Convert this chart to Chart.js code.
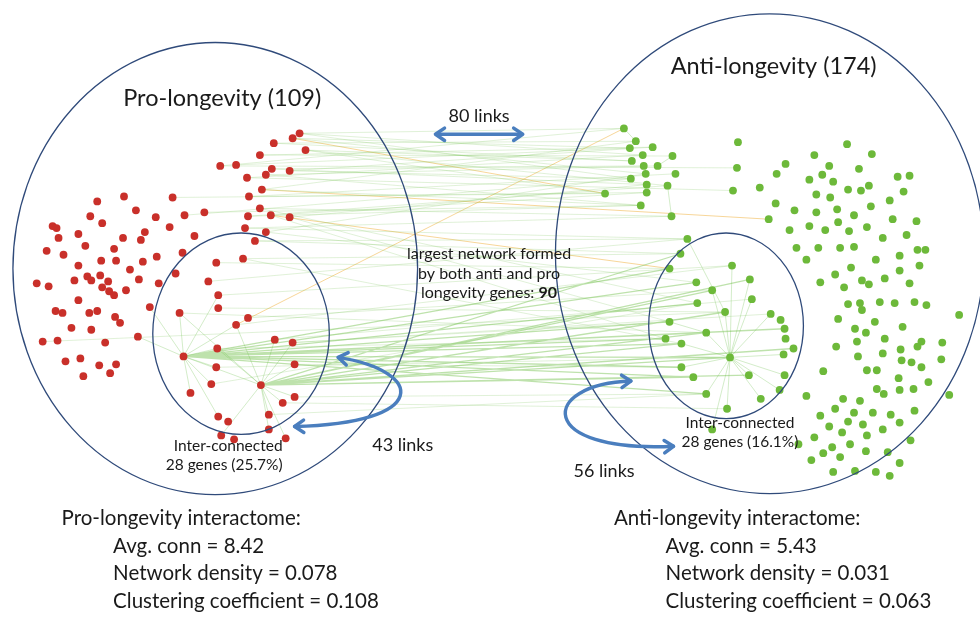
<!DOCTYPE html>
<html>
<head>
<meta charset="utf-8">
<script src="https://cdn.jsdelivr.net/npm/chart.js@4"></script>
<style>
  html, body { margin: 0; padding: 0; background: #fff; }
  #net { display: block; }
</style>
</head>
<body>
<canvas id="net" width="980" height="622"></canvas>
<script>
// gene positions (layout units, 0..980 x 0..622, y downwards)
const proGenes = [
  [298,131],[291,136],[304,148],[272,141],[258,153],[218,164],[234,163],[245,176],[264,173],[270,167],
  [288,169],[260,188],[247,195],[258,207],[269,214],[288,216],[246,215],[243,227],[264,231],[253,240],
  [241,258],[214,262],[206,281],[216,295],[170,196],[121,195],[94,200],[133,209],[153,216],[182,214],
  [202,211],[87,215],[99,222],[49,225],[53,227],[142,231],[167,226],[192,235],[75,233],[120,237],
  [138,239],[55,237],[82,245],[111,248],[43,250],[60,254],[180,252],[154,256],[98,260],[113,260],
  [140,261],[75,265],[127,269],[173,273],[84,276],[88,280],[97,275],[71,280],[105,281],[136,279],
  [156,283],[33,283],[45,286],[99,287],[106,291],[111,295],[123,290],[75,300],[216,308],[177,313],
  [147,307],[52,311],[59,313],[86,313],[94,311],[112,317],[117,323],[68,328],[88,330],[246,318],
  [234,325],[39,342],[54,341],[102,343],[135,337],[273,340],[291,343],[215,349],[181,357],[62,362],
  [77,359],[96,366],[113,365],[80,377],[107,374],[214,368],[293,365],[209,385],[259,386],[188,394],
  [293,398],[281,404],[267,416],[216,418],[226,423],[267,431],[219,437],[232,441],[284,440]
];
const antiGenes = [
  [625,126],[637,139],[631,146],[654,145],[644,153],[674,154],[633,159],[645,164],[659,164],[647,172],
  [677,172],[632,177],[648,183],[669,184],[648,191],[606,192],[642,204],[673,215],[739,166],[735,189],
  [762,186],[779,172],[788,162],[778,202],[771,218],[689,238],[682,253],[671,268],[734,265],[752,279],
  [698,282],[714,290],[754,299],[699,303],[727,312],[671,322],[708,333],[667,339],[683,344],[773,314],
  [783,320],[787,329],[788,339],[796,349],[786,355],[732,358],[683,368],[751,376],[787,376],[695,378],
  [782,391],[809,397],[708,395],[763,400],[729,410],[714,431],[801,446],[817,439],[814,462],[850,142],
  [817,153],[875,152],[832,164],[862,167],[825,173],[812,178],[836,180],[901,175],[913,174],[851,188],
  [864,189],[872,184],[907,190],[819,193],[833,196],[893,199],[797,209],[819,211],[840,208],[874,205],
  [857,214],[841,221],[896,218],[920,220],[792,229],[812,225],[828,229],[852,230],[870,226],[886,237],
  [910,234],[799,247],[821,247],[843,247],[857,246],[921,249],[929,249],[809,259],[879,259],[903,255],
  [854,267],[923,265],[838,274],[903,270],[823,282],[865,280],[872,284],[888,278],[847,287],[913,283],
  [851,304],[863,303],[883,302],[898,303],[918,302],[930,305],[865,310],[963,315],[841,319],[878,322],
  [906,327],[858,329],[869,333],[888,339],[860,342],[925,342],[921,347],[946,343],[839,347],[904,350],
  [886,354],[861,357],[905,361],[915,363],[945,360],[925,368],[826,372],[870,371],[880,371],[902,379],
  [932,383],[880,390],[887,395],[903,391],[917,390],[953,396],[846,400],[863,402],[838,410],[857,414],
  [876,414],[894,416],[918,412],[823,417],[851,423],[866,426],[903,424],[832,428],[886,431],[845,434],
  [870,437],[914,442],[853,446],[835,449],[826,455],[869,453],[891,454],[843,459],[903,465],[836,474],
  [858,473],[879,474],[893,478],[740,140]
];

// links: [pro index, anti index] or within one group
const crossLinks = [
  [0,0],[0,4],[1,2],[2,6],[2,15],[3,1],[10,3],[10,11],[9,7],[15,12],[14,14],[11,16],[18,9],[13,17],
  [16,13],[17,25],[19,26],[12,10],[4,5],[8,8],[85,32],[86,35],[96,46],[100,52],[101,54],[80,28],
  [68,34],[87,37],[95,45],[86,39],[5,18],[7,19],[5,0],[6,2],[7,4],[3,6],[9,12],[12,14],[16,16],
  [17,17],[19,25],[20,26],[21,27],[18,30],[13,33],[15,35],[14,37],[20,38],[22,25],[23,28],[0,11],
  [1,9],[2,13],[8,16],[11,1],[4,3],[24,15],[29,11],[30,16],[81,34],[79,31],[69,36],[97,33],[102,52]
];
const hubLinks = [
  [88,45],[88,38],[88,35],[88,37],[88,46],[88,49],[88,36],[88,33],[88,30],[88,27],[88,52],[88,41],
  [98,45],[98,34],[98,38],[98,36],[98,31],[98,26],[98,47],[98,29],[98,43],[98,49]
];
const orangeLinks = [[80,0],[14,27],[1,15],[11,24]];
const proLinks = [
  [88,69],[88,70],[88,87],[88,95],[88,97],[88,99],[88,80],[88,103],[88,23],[88,98],[88,84],
  [98,80],[98,85],[98,86],[98,96],[98,100],[98,101],[98,102],[98,105],[98,106],[98,108],[98,87],[98,69]
];
const antiLinks = [
  [45,34],[45,36],[45,38],[45,46],[45,47],[45,48],[45,52],[45,53],[45,54],[45,55],[45,28],[45,31],
  [45,32],[45,29],[45,50],[45,44],[36,35],[34,25],[5,8],[13,17],[0,1],[39,45]
];

const toPts = arr => arr.map(p => ({ x: p[0], y: p[1] }));
function segs(pairs, A, B) {
  const out = [];
  pairs.forEach(([i, j]) => {
    out.push({ x: A[i][0], y: A[i][1] }, { x: B[j][0], y: B[j][1] }, { x: null, y: null });
  });
  return out;
}
const lineSet = (data, color, width) => ({
  type: "line", data, borderColor: color, borderWidth: width, pointRadius: 0,
  spanGaps: false, fill: false, tension: 0, order: 5
});

const blue = "#4A7EBE";
const navy = "#2F4A7A";
const ink = "#1a1a1a";
const FONT = "Lato, 'Open Sans', sans-serif";

const decor = {
  id: "decor",
  beforeDraw(chart) {
    const c = chart.ctx;
    c.save(); c.fillStyle = "#fff"; c.fillRect(0, 0, chart.width, chart.height); c.restore();
  },
  afterDatasetsDraw(chart) {
    const c = chart.ctx, X = chart.scales.x, Y = chart.scales.y;
    const px = v => X.getPixelForValue(v), py = v => Y.getPixelForValue(v);
    c.save();
    // group ellipses
    c.strokeStyle = navy; c.lineWidth = 1.3;
    [[213,268,204,229],[239,334,89,102],[772,253,216,243],[728,326,78,94]].forEach(e => {
      c.beginPath();
      c.ellipse(px(e[0]), py(e[1]), px(e[0] + e[2]) - px(e[0]), py(e[1] + e[3]) - py(e[1]), 0, 0, Math.PI * 2);
      c.stroke();
    });

    // arrows
    c.strokeStyle = blue; c.lineWidth = 3.5; c.lineCap = "round"; c.lineJoin = "round";
    function head(x, y, ang) {
      const L = 11, a = 0.6;
      c.beginPath();
      c.moveTo(x - L * Math.cos(ang - a), y - L * Math.sin(ang - a));
      c.lineTo(x, y);
      c.lineTo(x - L * Math.cos(ang + a), y - L * Math.sin(ang + a));
      c.stroke();
    }
    c.beginPath(); c.moveTo(px(437), py(132)); c.lineTo(px(521), py(132)); c.stroke();
    head(px(435), py(132), Math.PI); head(px(523), py(132), 0);

    function curve(p) {
      const q = p.map(v => [px(v[0]), py(v[1])]);
      c.beginPath(); c.moveTo(q[0][0], q[0][1]);
      c.bezierCurveTo(q[1][0], q[1][1], q[2][0], q[2][1], q[3][0], q[3][1]);
      c.stroke();
      head(q[0][0], q[0][1], Math.atan2(q[0][1] - q[1][1], q[0][0] - q[1][0]));
      head(q[3][0], q[3][1], Math.atan2(q[3][1] - q[2][1], q[3][0] - q[2][0]));
    }
    curve([[337,358],[425,372],[430,425],[293,428]]);
    curve([[632,382],[540,385],[535,455],[675,448]]);

    // labels
    c.fillStyle = ink; c.textBaseline = "middle";
    function txt(s, x, y, size, align, weight) {
      c.font = (weight || "normal") + " " + size + "px " + FONT;
      c.textAlign = align || "center";
      c.fillText(s, px(x), py(y));
    }
    txt("Pro-longevity (109)", 220, 96, 23.5);
    txt("Anti-longevity (174)", 776, 63, 23.5);
    txt("80 links", 479, 114, 18);
    const sm = 16;
    txt("largest network formed", 489, 253, sm);
    txt("by both anti and pro", 489, 273, sm);
    c.font = sm + "px " + FONT;
    const w1 = c.measureText("longevity genes: ").width;
    c.font = "bold " + sm + "px " + FONT;
    const w2 = c.measureText("90").width;
    const x0 = px(489) - (w1 + w2) / 2;
    c.textAlign = "left";
    c.font = sm + "px " + FONT; c.fillText("longevity genes: ", x0, py(293));
    c.font = "bold " + sm + "px " + FONT; c.fillText("90", x0 + w1, py(293));
    txt("Inter-connected", 226, 448, 15.5);
    txt("28 genes (25.7%)", 222, 467, 15.5);
    txt("Inter-connected", 742, 424, 15.5);
    txt("28 genes (16.1%)", 742, 444, 15.5);
    txt("43 links", 402, 447, 18);
    txt("56 links", 605, 473, 18);
    txt("Pro-longevity interactome:", 58, 521, 20.5, "left");
    txt("Avg. conn = 8.42", 110, 549, 20.5, "left");
    txt("Network density = 0.078", 110, 577, 20.5, "left");
    txt("Clustering coefficient = 0.108", 110, 605, 20.5, "left");
    txt("Anti-longevity interactome:", 615, 521, 20.5, "left");
    txt("Avg. conn = 5.43", 667, 549, 20.5, "left");
    txt("Network density = 0.031", 667, 577, 20.5, "left");
    txt("Clustering coefficient = 0.063", 667, 605, 20.5, "left");
    c.restore();
  }
};

new Chart(document.getElementById("net"), {
  type: "scatter",
  data: {
    datasets: [
      { label: "Pro-longevity", data: toPts(proGenes), backgroundColor: "#C9302A", borderWidth: 0, pointRadius: 3.9, order: 1 },
      { label: "Anti-longevity", data: toPts(antiGenes), backgroundColor: "#6DB93A", borderWidth: 0, pointRadius: 3.9, order: 1 },
      lineSet(segs(crossLinks, proGenes, antiGenes), "rgba(130,200,100,0.25)", 1),
      lineSet(segs(hubLinks, proGenes, antiGenes), "rgba(110,190,70,0.45)", 1.3),
      lineSet(segs(orangeLinks, proGenes, antiGenes), "rgba(240,180,70,0.55)", 1),
      lineSet(segs(proLinks, proGenes, proGenes), "rgba(130,200,100,0.35)", 1),
      lineSet(segs(antiLinks, antiGenes, antiGenes), "rgba(130,200,100,0.35)", 1)
    ]
  },
  options: {
    responsive: false,
    animation: false,
    layout: { padding: 0 },
    scales: {
      x: { type: "linear", min: 0, max: 980, display: false },
      y: { type: "linear", min: 0, max: 622, reverse: true, display: false }
    },
    plugins: { legend: { display: false }, tooltip: { enabled: false } }
  },
  plugins: [decor]
});
</script>
</body>
</html>
